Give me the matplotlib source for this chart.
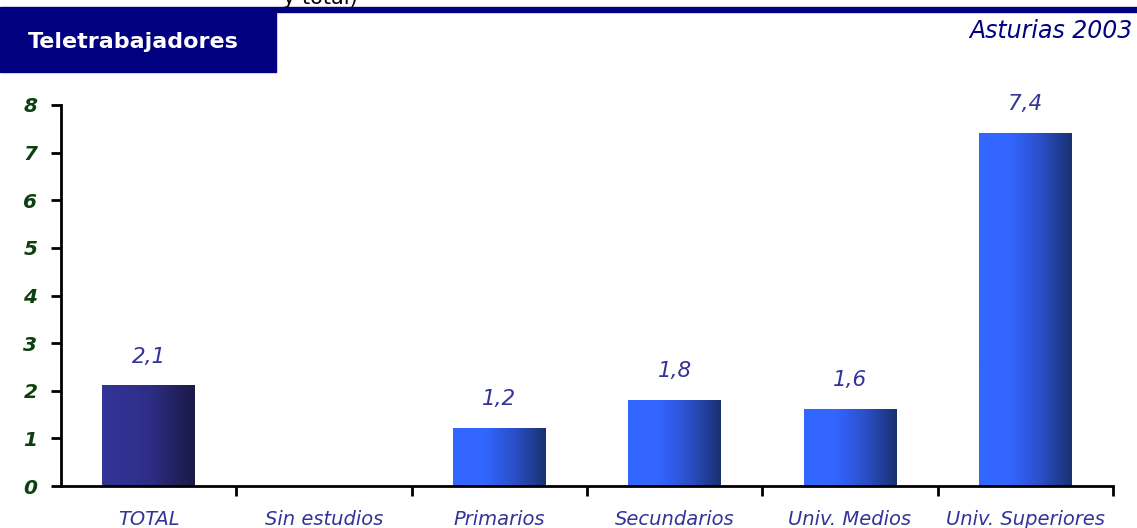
import numpy as np
import matplotlib.pyplot as plt
from matplotlib.colors import LinearSegmentedColormap
from matplotlib.patches import Rectangle

categories = ["TOTAL", "Sin estudios", "Primarios", "Secundarios", "Univ. Medios", "Univ. Superiores"]
values = [2.1, np.nan, 1.2, 1.8, 1.6, 7.4]
value_labels = ["2,1", "", "1,2", "1,8", "1,6", "7,4"]

navy = "#000080"
label_color = "#333399"
tick_color = "#0d4010"

cmap_total = LinearSegmentedColormap.from_list("total", ["#343499", "#2e2e88", "#1a1a45"])
cmap_other = LinearSegmentedColormap.from_list("other", ["#3366ff", "#3366ff", "#2a4fc8", "#1a3070"])

fig = plt.figure(figsize=(11.37, 5.28), dpi=100)
ax = fig.add_axes([61 / 1137, 42 / 528, (1113 - 61) / 1137, (486 - 105) / 528])

# header decorations
fig.patches.append(Rectangle((0, 1 - 12 / 528), 1, 5 / 528, transform=fig.transFigure,
                             color=navy, zorder=0))
fig.patches.append(Rectangle((0, 1 - 72 / 528), 276 / 1137, 60 / 528, transform=fig.transFigure,
                             color=navy, zorder=0))
fig.text(28 / 1137, 1 - 42 / 528, "Teletrabajadores", color="white", fontsize=16,
         fontweight="bold", va="center", ha="left")
fig.text(1133 / 1137, 1 - 31 / 528, "Asturias 2003", color=navy, fontsize=17,
         style="italic", va="center", ha="right")
fig.text(283 / 1137, 1 - 4 / 528, "y total)", color="black", fontsize=15, va="baseline", ha="left")

bar_w = 0.53
grad = np.linspace(0, 1, 256).reshape(1, -1)
for i, (v, lab) in enumerate(zip(values, value_labels)):
    if np.isnan(v):
        continue
    cmap = cmap_total if i == 0 else cmap_other
    ax.imshow(grad, cmap=cmap, aspect="auto", extent=[i - bar_w / 2, i + bar_w / 2, 0, v],
              zorder=2)
    ax.annotate(lab, (i, v), xytext=(0, 14), textcoords="offset points", ha="center",
                va="bottom", color=label_color, fontsize=15.5, style="italic")

ax.set_xlim(-0.5, 5.5)
ax.set_ylim(0, 8)
ax.set_xticks(range(len(categories)))
ax.set_xticklabels(categories, style="italic", color=label_color, fontsize=14)
ax.set_xticks(np.arange(0.5, 6, 1), minor=True)
ax.tick_params(axis="x", which="major", length=0, pad=17)
ax.tick_params(axis="x", which="minor", length=7, width=2, direction="out")
ax.set_yticks(range(0, 9))
ax.tick_params(axis="y", length=7, width=2, pad=10, labelcolor=tick_color, labelsize=14.5)
for t in ax.get_yticklabels():
    t.set_style("italic")
    t.set_fontweight("bold")
for s in ["top", "right"]:
    ax.spines[s].set_visible(False)
for s in ["left", "bottom"]:
    ax.spines[s].set_linewidth(2)

fig.savefig("out.png", dpi=100)
